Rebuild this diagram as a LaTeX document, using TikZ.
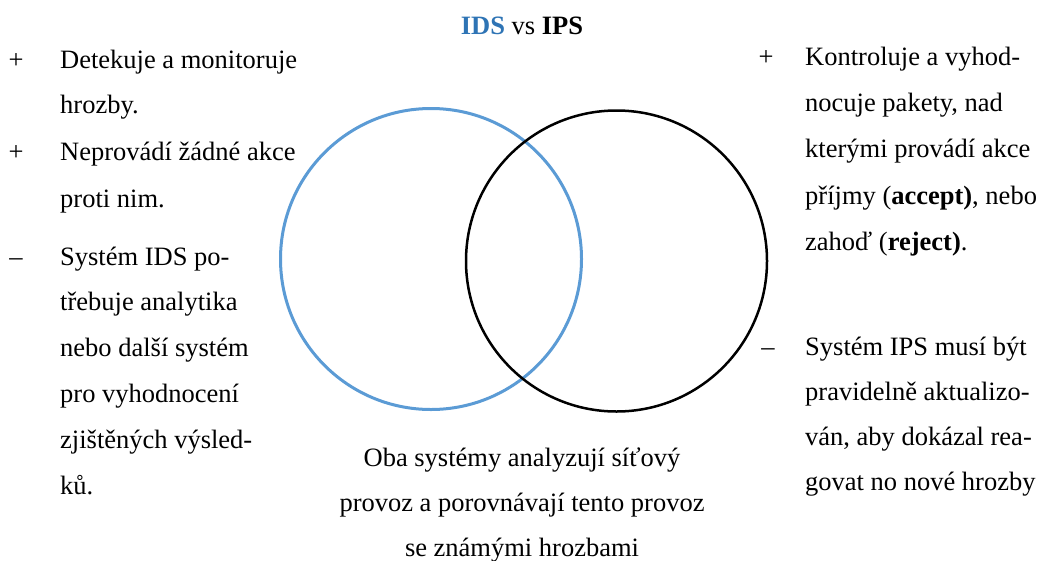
\documentclass[tikz,border=0pt]{standalone}
\usepackage{fontspec}
\setmainfont{Liberation Serif}
\definecolor{idsblue}{HTML}{2E74B5}
\definecolor{circblue}{HTML}{5B9BD5}
\begin{document}
\begin{tikzpicture}[x=1pt,y=-1pt,
  body/.style={inner sep=0, font=\fontsize{26.5}{46}\selectfont},
  txt/.style={body, anchor=base west},
  ctxt/.style={body, anchor=base},
  bul/.style={body, anchor=base},
  venn/.style={circle, inner sep=0, minimum size=301pt}]
\useasboundingbox (0,0) rectangle (1041,560);
% circles
\node[venn, draw=circblue, line width=3pt] (ids) at (431,259) {};
\node[venn, draw=black, line width=2.5pt] (ips) at (616.5,261) {};
% title
\node[ctxt] (title) at (522,34) {\textbf{\textcolor{idsblue}{IDS}} vs \textbf{IPS}};
% left column
\node[bul] (lb1) at (16,68) {+};
\node[txt] (l1) at (60,68) {Detekuje a monitoruje};
\node[txt] (l2) at (60,113) {hrozby.};
\node[bul] (lb2) at (16,160) {+};
\node[txt] (l3) at (60,160) {Neprovádí žádné akce};
\node[txt] (l4) at (60,207) {proti nim.};
\node[bul] (lb3) at (16,265) {–};
\node[txt] (l5) at (60,265) {Systém IDS po-};
\node[txt] (l6) at (60,310) {třebuje analytika};
\node[txt] (l7) at (60,356) {nebo další systém};
\node[txt] (l8) at (60,402) {pro vyhodnocení};
\node[txt] (l9) at (60,448) {zjištěných výsled-};
\node[txt] (l10) at (60,494) {ků.};
% right column
\node[bul] (rb1) at (766,65) {+};
\node[txt] (r1) at (805,65) {Kontroluje a vyhod-};
\node[txt] (r2) at (805,111) {nocuje pakety, nad};
\node[txt] (r3) at (805,157) {kterými provádí akce};
\node[txt] (r4) at (805,204) {příjmy (\textbf{accept)}, nebo};
\node[txt] (r5) at (805,250) {zahoď (\textbf{reject)}.};
\node[bul] (rb2) at (768,355) {–};
\node[txt] (r6) at (805,355) {Systém IPS musí být};
\node[txt] (r7) at (805,400) {pravidelně aktualizo-};
\node[txt] (r8) at (805,445) {ván, aby dokázal rea-};
\node[txt] (r9) at (805,490) {govat no nové hrozby};
% bottom
\node[ctxt] (b1) at (522,466) {Oba systémy analyzují síťový};
\node[ctxt] (b2) at (522,511) {provoz a porovnávají tento provoz};
\node[ctxt] (b3) at (522,556) {se známými hrozbami};
\end{tikzpicture}
\end{document}
